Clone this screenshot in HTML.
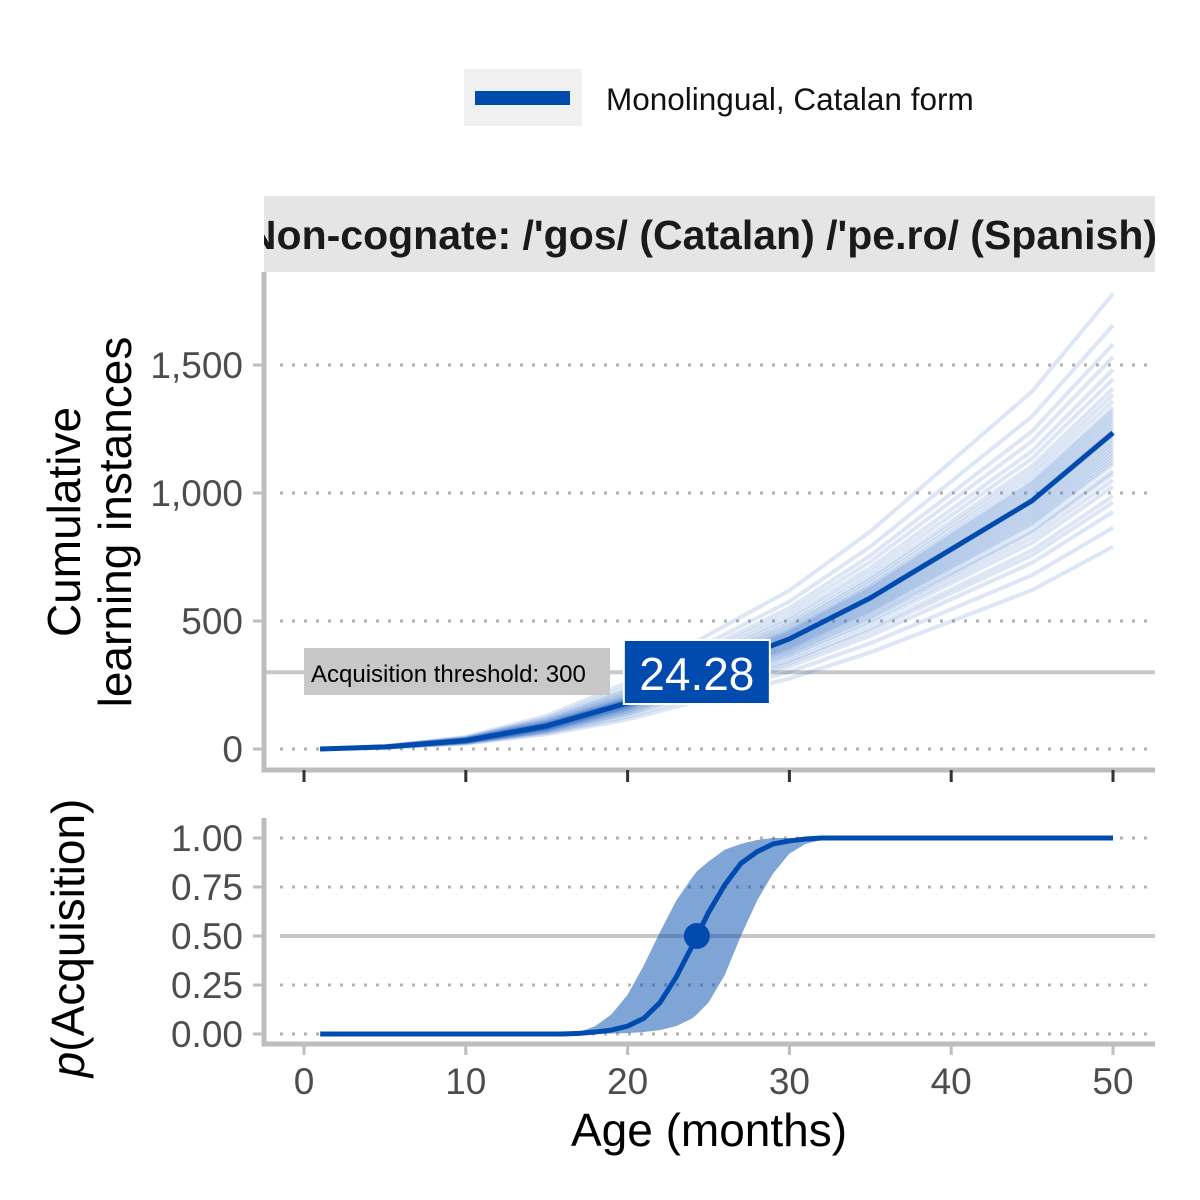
<!DOCTYPE html>
<html><head><meta charset="utf-8"><style>
body{margin:0;background:#fff;}
svg{display:block;font-family:"Liberation Sans",sans-serif;}
</style></head><body>
<svg id="chart" width="1200" height="1200" viewBox="0 0 1200 1200">
<defs><clipPath id="stripclip"><rect x="264" y="196" width="891" height="76"/></clipPath>
<clipPath id="topclip"><rect x="264" y="272" width="891" height="498"/></clipPath></defs>
<g>
<rect x="464" y="69" width="118" height="57" fill="#f0f0f0"/>
<line x1="475" y1="98" x2="570" y2="98" stroke="#004BAD" stroke-width="14"/>
<text x="606" y="110" font-size="31.5" fill="#111">Monolingual, Catalan form</text>
</g>
<rect x="264" y="196" width="891" height="76" fill="#e5e5e5"/>
<text x="702" y="249" font-size="41" font-weight="bold" text-anchor="middle" fill="#1a1a1a" clip-path="url(#stripclip)">Non-cognate: /'gos/ (Catalan) /'pe.ro/ (Spanish)</text>
<g id="topPanel"></g>
<g id="botPanel"></g>
<text transform="translate(80,522) rotate(-90)" font-size="46" text-anchor="middle" fill="#000">Cumulative</text>
<text transform="translate(131,522) rotate(-90)" font-size="46" text-anchor="middle" fill="#000">learning instances</text>
<text transform="translate(84,938) rotate(-90)" font-size="46" text-anchor="middle" fill="#000"><tspan font-style="italic">p</tspan>(Acquisition)</text>
<text x="709" y="1146" font-size="46" text-anchor="middle" fill="#000">Age (months)</text>
</svg>
<script>
const ages=[1,5,10,15,20,25,30,35,40,45,50];
const meanInst=[0,8,33,90,180,310,430,590,780,970,1235];
const simFactors=[0.64,0.7,0.75,0.78,0.8,0.83,0.85,0.87,0.88,0.9,0.91,0.92,0.93,0.94,0.95,0.96,0.97,0.98,0.99,1.0,1.01,1.02,1.03,1.04,1.05,1.06,1.07,1.08,1.1,1.12,1.14,1.17,1.2,1.24,1.28,1.34,1.44];
const yTicksTop=[0,500,1000,1500];
const yTickLabelsTop=["0","500","1,000","1,500"];
const xTicks=[0,10,20,30,40,50];
const threshold=300;
const aoa=24.28;
const pAges=[1,16,17,18,19,20,21,22,23,24,24.28,25,26,27,28,29,30,31,32,35,50];
const pMean=[0,0,0.003,0.01,0.02,0.04,0.08,0.16,0.29,0.45,0.5,0.62,0.76,0.87,0.93,0.97,0.985,0.995,1,1,1];
const pLow=[0,0,0,0,0.002,0.005,0.01,0.02,0.04,0.08,0.1,0.16,0.3,0.5,0.68,0.82,0.92,0.97,0.99,1,1];
const pHigh=[0,0,0.01,0.04,0.1,0.2,0.35,0.52,0.68,0.8,0.83,0.88,0.94,0.97,0.99,1,1,1,1,1,1];
const yTicksBot=[0,0.25,0.5,0.75,1];
const yTickLabelsBot=["0.00","0.25","0.50","0.75","1.00"];
const NS="http://www.w3.org/2000/svg";
const X=a=>304+a*(1113-304)/50;
const YT=v=>749-v*0.256;
const YB=p=>1034-p*196;
function mk(parent,tag,attrs){const e=document.createElementNS(NS,tag);for(const k in attrs)e.setAttribute(k,attrs[k]);parent.appendChild(e);return e;}
const topG=document.getElementById('topPanel'),botG=document.getElementById('botPanel');
yTicksTop.forEach((v,i)=>{
 const g=mk(topG,'line',{x1:280,x2:1155,y1:YT(v),y2:YT(v),stroke:'#b3b3b3','stroke-width':3,'stroke-dasharray':'3,9'});
 
 
 const t=mk(topG,'line',{x1:253,x2:264,y1:YT(v),y2:YT(v),stroke:'#bdbdbd','stroke-width':3});
 
 
 const l=mk(topG,'text',{x:243,y:YT(v)+13,'font-size':37,'text-anchor':'end',fill:'#4d4d4d'});l.textContent=yTickLabelsTop[i];
 
 
});
const thr=mk(topG,'line',{x1:264,x2:1155,y1:YT(threshold),y2:YT(threshold),stroke:'#c8c8c8','stroke-width':4});


const simG=mk(topG,'g',{'clip-path':'url(#topclip)'});


simFactors.forEach(f=>{
 const pts=ages.map((a,i)=>X(a)+','+YT(meanInst[i]*f)).join(' ');
 const p=mk(simG,'polyline',{points:pts,fill:'none',stroke:'rgba(40,100,190,0.16)','stroke-width':4});
 
 
});
const mean=mk(topG,'polyline',{points:ages.map((a,i)=>X(a)+','+YT(meanInst[i])).join(' '),fill:'none',stroke:'#004BAD','stroke-width':5,'stroke-linejoin':'round'});


const tb=mk(topG,'rect',{x:304,y:648,width:306,height:47,fill:'#c8c8c8'});


const tt=mk(topG,'text',{x:311,y:682,'font-size':24,fill:'#000'});tt.textContent='Acquisition threshold: 300';


const ab=mk(topG,'rect',{x:X(aoa)-73,y:640,width:146,height:64,fill:'#004BAD',stroke:'#fff','stroke-width':2});


const at=mk(topG,'text',{x:X(aoa),y:690,'font-size':46,fill:'#fff','text-anchor':'middle'});at.textContent=aoa.toFixed(2);


const ax1=mk(topG,'path',{d:'M264,272 V770 H1155',fill:'none',stroke:'#bdbdbd','stroke-width':5});


xTicks.forEach(v=>{
 const t=mk(topG,'line',{x1:X(v),x2:X(v),y1:770,y2:782,stroke:'#333','stroke-width':3});
 
 
});
yTicksBot.forEach((v,i)=>{
 const g=mk(botG,'line',{x1:280,x2:1155,y1:YB(v),y2:YB(v),stroke:v===0.5?'#c8c8c8':'#b3b3b3','stroke-width':v===0.5?4:3,'stroke-dasharray':v===0.5?'none':'3,9'});
 
 
 const t=mk(botG,'line',{x1:253,x2:264,y1:YB(v),y2:YB(v),stroke:'#bdbdbd','stroke-width':3});
 
 
 const l=mk(botG,'text',{x:243,y:YB(v)+13,'font-size':37,'text-anchor':'end',fill:'#4d4d4d'});l.textContent=yTickLabelsBot[i];
 
 
});
const bandD='M'+pAges.map((a,i)=>X(a)+','+YB(pHigh[i])).join(' L')+' L'+pAges.slice().reverse().map((a,i)=>X(a)+','+YB(pLow[pAges.length-1-i])).join(' L')+' Z';
const band=mk(botG,'path',{d:bandD,fill:'rgba(0,75,173,0.5)'});


const pl=mk(botG,'polyline',{points:pAges.map((a,i)=>X(a)+','+YB(pMean[i])).join(' '),fill:'none',stroke:'#004BAD','stroke-width':5});


const pt=mk(botG,'circle',{cx:X(aoa),cy:YB(0.5),r:13,fill:'#004BAD'});


const ax2=mk(botG,'path',{d:'M264,818 V1044 H1155',fill:'none',stroke:'#bdbdbd','stroke-width':5});


xTicks.forEach(v=>{
 const t=mk(botG,'line',{x1:X(v),x2:X(v),y1:1044,y2:1055,stroke:'#bdbdbd','stroke-width':3});
 
 
 const l=mk(botG,'text',{x:X(v),y:1094,'font-size':37,'text-anchor':'middle',fill:'#4d4d4d'});l.textContent=v;
 
 
});
</script>
</body></html>
